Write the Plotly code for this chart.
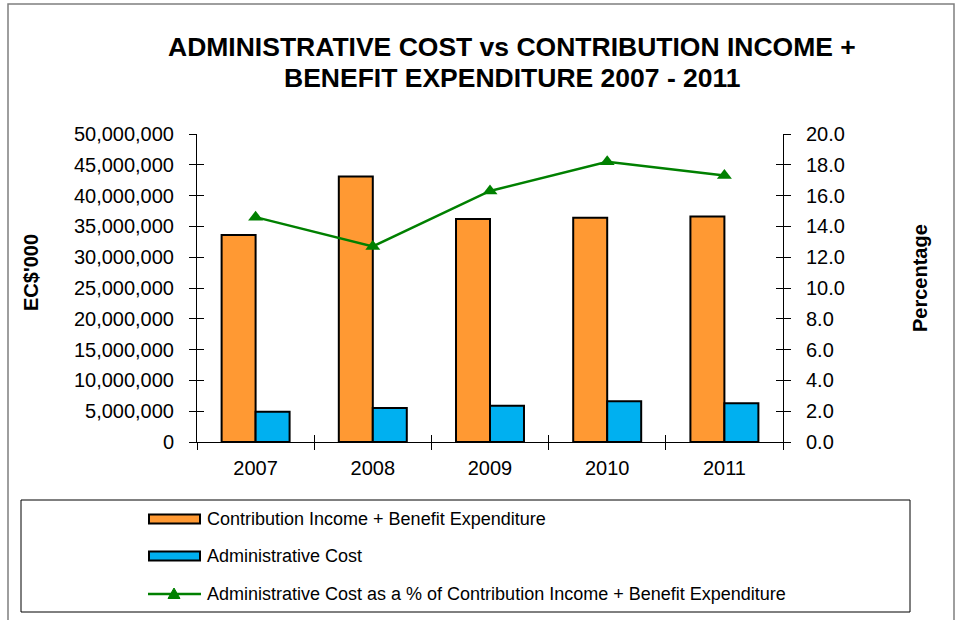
import plotly.graph_objects as go

# ---- data ----
years = ["2007", "2008", "2009", "2010", "2011"]
contribution_benefit = [33_600_000, 43_100_000, 36_200_000, 36_400_000, 36_600_000]
admin_cost = [4_900_000, 5_500_000, 5_900_000, 6_600_000, 6_300_000]
admin_pct = [14.6, 12.7, 16.3, 18.2, 17.3]

series_names = [
    "Contribution Income + Benefit Expenditure",
    "Administrative Cost",
    "Administrative Cost as a % of Contribution Income + Benefit Expenditure",
]
title_lines = [
    "ADMINISTRATIVE COST vs CONTRIBUTION INCOME +",
    "BENEFIT EXPENDITURE 2007 - 2011",
]

# ---- layout geometry (pixels) ----
W, H = 962, 620
PL, PR, PT, PB = 197, 783, 134, 442  # plot area edges

ORANGE = "#FF9933"
BLUE = "#00B0F0"
GREEN = "#008000"
FONT = "Arial, Liberation Sans, sans-serif"


def px(x):
    return (x - PL) / (PR - PL)


def py(y):
    return (PB - y) / (PB - PT)


fig = go.Figure()

fig.add_trace(go.Bar(
    x=years, y=contribution_benefit, name=series_names[0],
    marker=dict(color=ORANGE, line=dict(color="black", width=2)),
))
fig.add_trace(go.Bar(
    x=years, y=admin_cost, name=series_names[1],
    marker=dict(color=BLUE, line=dict(color="black", width=2)),
))
fig.add_trace(go.Scatter(
    x=years, y=admin_pct, name=series_names[2], yaxis="y2",
    mode="lines+markers",
    line=dict(color=GREEN, width=2.5),
    marker=dict(symbol="triangle-up", size=13, color=GREEN),
))

# empty helper traces so the tick-crossing overlay axes get drawn
fig.add_trace(go.Scatter(x=[None], y=[None], xaxis="x2", yaxis="y3",
                         showlegend=False, hoverinfo="skip"))
fig.add_trace(go.Scatter(x=[None], y=[None], xaxis="x2", yaxis="y4",
                         showlegend=False, hoverinfo="skip"))

tick_font = dict(family=FONT, size=20, color="black")

fig.update_layout(
    width=W, height=H,
    margin=dict(l=PL, r=W - PR, t=PT, b=H - PB),
    paper_bgcolor="white", plot_bgcolor="white",
    barmode="group", bargap=0.42, bargroupgap=0,
    showlegend=False,
    xaxis=dict(
        type="category", showline=True, linecolor="black", linewidth=1,
        ticks="outside", ticklen=7, tickcolor="black", tickson="boundaries",
        tickfont=tick_font, ticklabelstandoff=8,
        showgrid=False, zeroline=False, mirror=False,
    ),
    xaxis2=dict(
        overlaying="x", range=[-0.5, 4.5], tick0=0.5, dtick=1,
        ticks="inside", ticklen=7, tickcolor="black",
        showticklabels=False, showline=False, showgrid=False, zeroline=False,
    ),
    yaxis=dict(
        range=[0, 50_000_000], dtick=5_000_000, tickformat=",d",
        showline=True, linecolor="black", linewidth=1,
        ticks="outside", ticklen=7, tickcolor="black",
        tickfont=tick_font, ticklabelstandoff=11,
        showgrid=False, zeroline=False,
    ),
    yaxis2=dict(
        range=[0, 20], dtick=2, tickformat=".1f",
        overlaying="y", side="right",
        showline=True, linecolor="black", linewidth=1,
        ticks="outside", ticklen=7, tickcolor="black",
        tickfont=tick_font, ticklabelstandoff=11,
        showgrid=False, zeroline=False,
    ),
    yaxis3=dict(
        range=[0, 50_000_000], dtick=5_000_000, overlaying="y", side="left",
        anchor="x2", ticks="inside", ticklen=7, tickcolor="black",
        showticklabels=False, showline=False, showgrid=False, zeroline=False,
    ),
    yaxis4=dict(
        range=[0, 20], dtick=2, overlaying="y", side="right",
        anchor="x2", ticks="inside", ticklen=7, tickcolor="black",
        showticklabels=False, showline=False, showgrid=False, zeroline=False,
    ),
)

bold = dict(family=FONT, color="black", weight="bold")
annotations = [
    dict(text=title_lines[0], x=px(512), y=py(47), font=dict(bold, size=26.5)),
    dict(text=title_lines[1], x=px(512), y=py(78), font=dict(bold, size=26.5)),
    dict(text="EC$'000", x=px(31), y=py(273), textangle=-90, font=dict(bold, size=20)),
    dict(text="Percentage", x=px(920), y=py(278), textangle=-90, font=dict(bold, size=20)),
]

shapes = [
    # outer chart frame
    dict(type="rect", x0=px(8), x1=px(954), y0=py(4), y1=py(640),
         line=dict(color="#7F7F7F", width=1.5), fillcolor="rgba(0,0,0,0)", layer="below"),
    # legend box
    dict(type="rect", x0=px(21), x1=px(910), y0=py(500), y1=py(612),
         line=dict(color="black", width=1), fillcolor="white"),
]

# legend entries
row_y = [519, 556, 594]
for color, ry in zip([ORANGE, BLUE], row_y[:2]):
    shapes.append(dict(type="rect", x0=px(149), x1=px(200), y0=py(ry - 4.5), y1=py(ry + 4.5),
                       fillcolor=color, line=dict(color="black", width=2)))
shapes.append(dict(type="line", x0=px(148), x1=px(201), y0=py(row_y[2]), y1=py(row_y[2]),
                   line=dict(color=GREEN, width=2.5)))
tx, ty = 174, row_y[2]
shapes.append(dict(
    type="path",
    path=f"M {px(tx - 6)} {py(ty + 4.5)} L {px(tx + 6)} {py(ty + 4.5)} L {px(tx)} {py(ty - 6)} Z",
    fillcolor=GREEN, line=dict(color=GREEN, width=1),
))
for name, ry in zip(series_names, row_y):
    annotations.append(dict(text=name, x=px(205), y=py(ry), xanchor="left",
                            font=dict(family=FONT, size=18, color="black")))

for a in annotations:
    a.setdefault("xref", "paper")
    a.setdefault("yref", "paper")
    a.setdefault("xanchor", "center")
    a.setdefault("yanchor", "middle")
    a.setdefault("showarrow", False)
for s in shapes:
    s["xref"] = "paper"
    s["yref"] = "paper"

fig.update_layout(annotations=annotations, shapes=shapes)

fig.write_html("out.html")
